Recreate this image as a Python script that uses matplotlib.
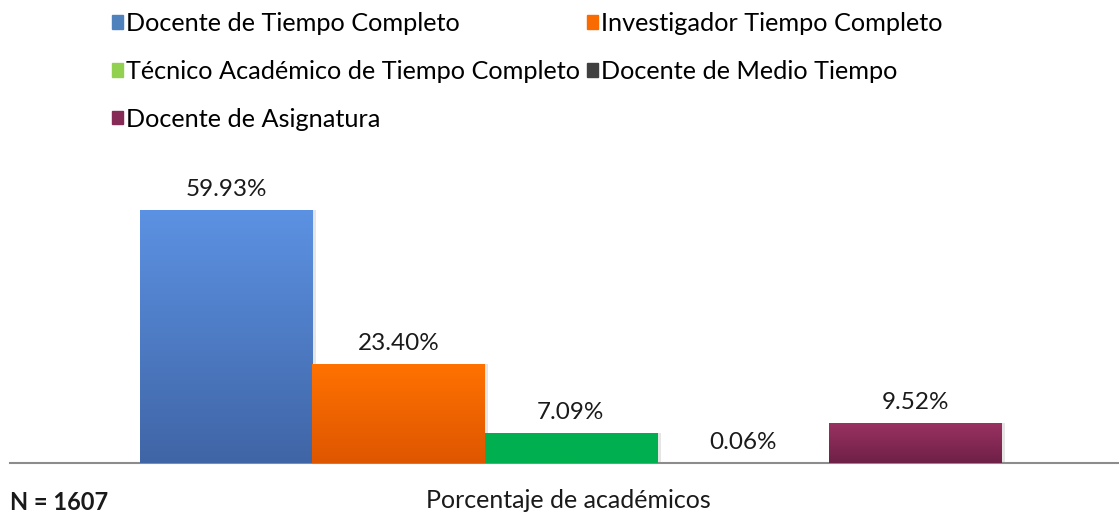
import numpy as np
import matplotlib.pyplot as plt
from matplotlib.colors import LinearSegmentedColormap
from matplotlib.patches import Rectangle

plt.rcParams['font.family'] = ['Lato', 'DejaVu Sans']

# ---------------- datos ----------------
categorias = ['Docente de Tiempo Completo', 'Investigador Tiempo Completo',
              'Técnico Académico de Tiempo Completo', 'Docente de Medio Tiempo',
              'Docente de Asignatura']
porcentajes = [59.93, 23.40, 7.09, 0.06, 9.52]
etiquetas = ['59.93%', '23.40%', '7.09%', '0.06%', '9.52%']

# colores (arriba, abajo) para el degradado
colores_top = ['#5C92E3', '#FF7200', '#00B050', '#404040', '#9B3262']
colores_bot = ['#4065A6', '#DE5600', '#00B050', '#404040', '#6E2046']
colores_leyenda = ['#4F81BD', '#F96A00', '#92D050', '#404040', '#852B56']

fig = plt.figure(figsize=(11.19, 5.16), dpi=100)
ax = fig.add_axes([10 / 1119, 53 / 516, 1109 / 1119, 283 / 516])

x = np.arange(len(porcentajes)) - 2
bars = ax.bar(x, porcentajes, width=1.0, color=colores_leyenda, zorder=2)

# degradado vertical dentro de cada barra
for b, ct, cb in zip(bars, colores_top, colores_bot):
    x0, y0 = b.get_x(), b.get_y()
    w, h = b.get_width(), b.get_height()
    # sombra ligera
    ax.add_patch(Rectangle((x0 + 0.02, y0), w, h, facecolor='#000000',
                           alpha=0.10, zorder=1, linewidth=0))
    cmap = LinearSegmentedColormap.from_list('g', [cb, ct])
    grad = np.linspace(0, 1, 256).reshape(-1, 1)
    im = ax.imshow(grad, cmap=cmap, origin='lower', aspect='auto',
                   extent=[x0, x0 + w, y0, y0 + h], zorder=3)
    im.set_clip_path(b)

for xi, v, lab in zip(x, porcentajes, etiquetas):
    ax.annotate(lab, (xi, v), xytext=(0, 7), textcoords='offset points',
                ha='center', va='bottom', fontsize=17.5, color='#1a1a1a')

ax.set_xlim(-3.254, 3.18)
ax.set_ylim(0, 67)
ax.set_yticks([])
ax.set_xticks([])
for s in ['top', 'right', 'left']:
    ax.spines[s].set_visible(False)
ax.spines['bottom'].set_color('#8c8c8c')
ax.spines['bottom'].set_linewidth(1.5)

# leyenda en orden por filas
handles = [Rectangle((0, 0), 1, 1, color=c) for c in colores_leyenda]
orden = [0, 2, 4, 1, 3]
fig.legend([handles[i] for i in orden], [categorias[i] for i in orden],
           ncol=2, loc='upper left', bbox_to_anchor=(112 / 1119, 1 - 12 / 516),
           frameon=False, fontsize=18.2, handlelength=0.45, handleheight=0.45,
           handletextpad=0.1, columnspacing=0.27, labelspacing=0.98,
           borderaxespad=0, borderpad=0)

fig.text(568 / 1119, 1 - 500 / 516, 'Porcentaje de académicos',
         ha='center', va='center', fontsize=18, color='#1a1a1a')
fig.text(10 / 1119, 1 - 503 / 516, 'N = 1607', ha='left', va='center',
         fontsize=17, fontweight='bold', color='#1a1a1a')

fig.savefig('out.png', dpi=100)
